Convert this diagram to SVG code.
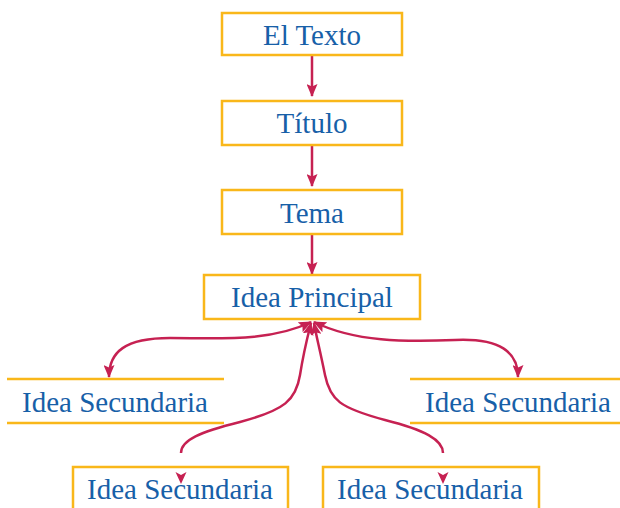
<svg xmlns="http://www.w3.org/2000/svg" width="620" height="508" viewBox="0 0 620 508">
<defs>
<style>
.box{fill:#fff;stroke:#F9B71A;stroke-width:2.5}
.ln{stroke:#F9B71A;stroke-width:2.5;fill:none}
.t{font-family:"Liberation Serif","Times New Roman",serif;font-size:29px;fill:#1760A8;text-anchor:middle}
.c{fill:none;stroke:#C62152;stroke-width:2.5}
.ah{fill:#C62152}
</style>
<marker id="ar" viewBox="0 0 13 11" refX="12" refY="5.5" markerWidth="13" markerHeight="11" markerUnits="userSpaceOnUse" orient="auto-start-reverse">
<path d="M0,0 L13,5.5 L0,11 L2.5,5.5 z" fill="#C62152"/>
</marker>
</defs>
<rect width="620" height="508" fill="#fff"/>
<g id="connectors">
<path class="c" d="M312,55 L312,96" marker-end="url(#ar)"/>
<path class="c" d="M312,145 L312,186" marker-end="url(#ar)"/>
<path class="c" d="M312,234 L312,274" marker-end="url(#ar)"/>
<path class="c" d="M311,322 C270,342 220,338 170,338 C125,338 109,352 109,377" marker-start="url(#ar)" marker-end="url(#ar)"/>
<path class="c" d="M314,322 C355,342 405,342 455,340 C500,338 518,352 518,377" marker-start="url(#ar)" marker-end="url(#ar)"/>
<path class="c" d="M181,453 C181,440 200,432 240,422 C285,410 296,400 300,375 C304,350 308,335 311,323" marker-end="url(#ar)"/>
<path class="c" d="M443,453 C443,440 425,430 385,420 C340,408 330,400 325,375 C320,350 316,335 314,323" marker-end="url(#ar)"/>
</g>
<g id="n-texto"><rect class="box" x="222" y="13" width="180" height="42"/><text class="t" x="312" y="45">El Texto</text></g>
<g id="n-titulo"><rect class="box" x="222" y="101" width="180" height="44"/><text class="t" x="312" y="133">Título</text></g>
<g id="n-tema"><rect class="box" x="222" y="190" width="180" height="44"/><text class="t" x="312" y="223">Tema</text></g>
<g id="n-principal"><rect class="box" x="204" y="275" width="216" height="44"/><text class="t" x="312" y="307">Idea Principal</text></g>
<g id="n-sec-left"><path class="ln" d="M7,379 H224 M7,423 H224"/><text class="t" x="115" y="412">Idea Secundaria</text></g>
<g id="n-sec-right"><path class="ln" d="M410,379 H622 M410,423 H622"/><text class="t" x="518" y="412">Idea Secundaria</text></g>
<g id="n-sec-bl"><rect class="box" x="73" y="467" width="215" height="60"/><text class="t" x="180" y="499">Idea Secundaria</text></g>
<g id="n-sec-br"><rect class="box" x="323" y="467" width="216" height="60"/><text class="t" x="430" y="499">Idea Secundaria</text></g>
<g id="bottom-heads">
<path class="ah" d="M175.5,472 L181,475 L186.5,472 L181,484 Z"/>
<path class="ah" d="M437.5,472 L443,475 L448.5,472 L443,484 Z"/>
</g>
</svg>
